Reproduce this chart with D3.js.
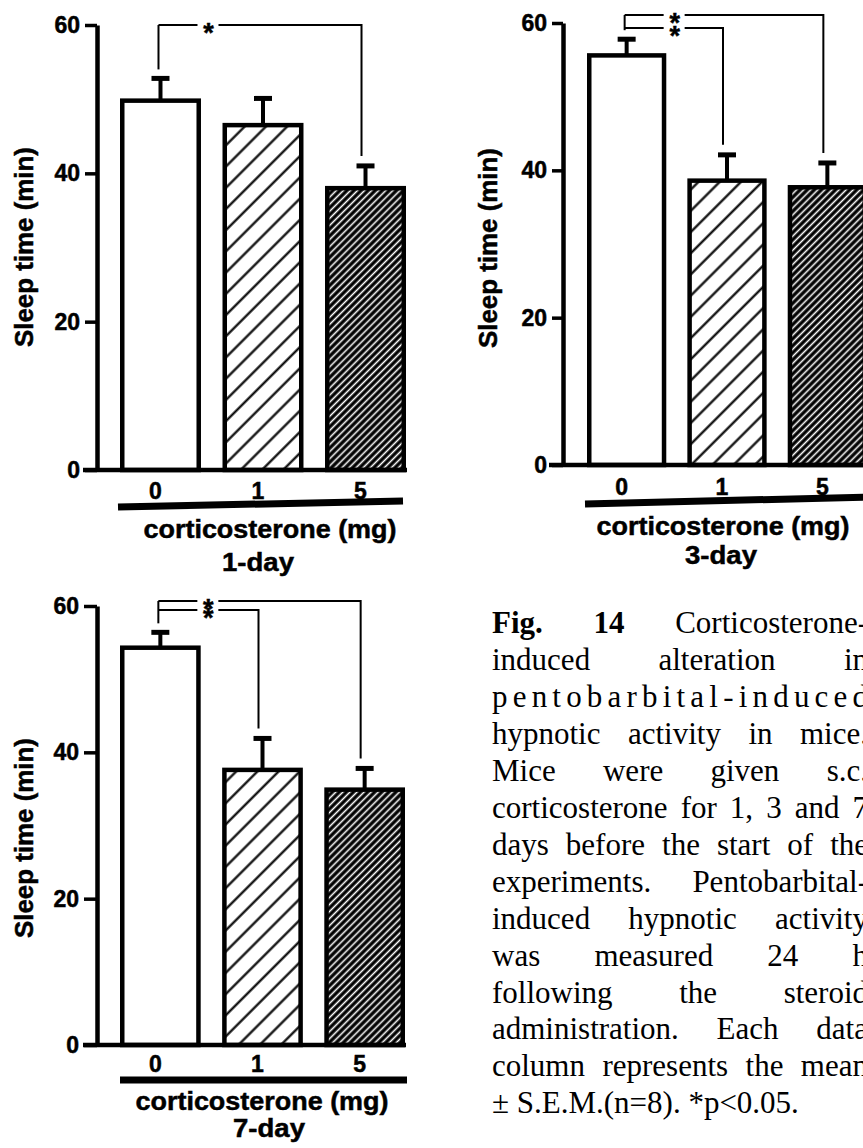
<!DOCTYPE html>
<html>
<head>
<meta charset="utf-8">
<script src="https://cdn.jsdelivr.net/npm/d3@7"></script>
<style>
  html, body { margin: 0; padding: 0; background: #fff; overflow: hidden; }
  svg { display: block; }
</style>
</head>
<body>
<svg id="fig" width="863" height="1148"></svg>
<script>
// ---- data ----
const doses = ["0", "1", "5"];
const yTicks = [0, 20, 40, 60];
const dayLabels = ["1-day", "3-day", "7-day"];
const axisTitle = "Sleep time (min)";
const doseTitle = "corticosterone (mg)";

const mean1Day = [49.8, 46.5, 38.0];
const sem1Day  = [3.0, 3.6, 3.0];
const mean3Day = [55.6, 38.6, 37.7];
const sem3Day  = [2.2, 3.5, 3.3];
const mean7Day = [54.3, 37.6, 34.9];
const sem7Day  = [2.1, 4.3, 2.9];

// significant differences vs. control (group index pairs), outermost first
const sig1Day = [[0, 2]];
const sig3Day = [[0, 2], [0, 1]];
const sig7Day = [[0, 2], [0, 1]];
const sigMark = "*";

const captionLines = [
  "Fig. 14 Corticosterone-",
  "induced alteration in",
  "pentobarbital-induced",
  "hypnotic activity in mice.",
  "Mice were given s.c.",
  "corticosterone for 1, 3 and 7",
  "days before the start of the",
  "experiments. Pentobarbital-",
  "induced hypnotic activity",
  "was measured 24 h",
  "following the steroid",
  "administration. Each data",
  "column represents the mean",
  "\u00B1 S.E.M.(n=8). *p<0.05."
];
const captionBoldWords = 2; // "Fig. 14"

// ---- drawing ----
const SANS = "'Liberation Sans', Arial, Helvetica, sans-serif";
const SERIF = "'Liberation Serif', 'Times New Roman', serif";
const svg = d3.select("#fig");

const defs = svg.append("defs");
const sparse = defs.append("pattern")
  .attr("id", "hatchSparse").attr("patternUnits", "userSpaceOnUse")
  .attr("width", 15).attr("height", 15).attr("patternTransform", "rotate(45)");
sparse.append("rect").attr("width", 15).attr("height", 15).attr("fill", "#fff");
sparse.append("line").attr("x1", 7.5).attr("x2", 7.5).attr("y1", 0).attr("y2", 15)
  .attr("stroke", "#000").attr("stroke-width", 2.2);

const dense = defs.append("pattern")
  .attr("id", "hatchDense").attr("patternUnits", "userSpaceOnUse")
  .attr("width", 5).attr("height", 5).attr("patternTransform", "rotate(45)");
dense.append("rect").attr("width", 5).attr("height", 5).attr("fill", "#000");
dense.append("line").attr("x1", 2.5).attr("x2", 2.5).attr("y1", 0).attr("y2", 5)
  .attr("stroke", "#fff").attr("stroke-width", 1.6);

const barFills = ["#fff", "url(#hatchSparse)", "url(#hatchDense)"];

// heavy bold sans text, as printed
function sansBold(sel, size) {
  return sel.attr("font-family", SANS).attr("font-weight", "bold").attr("font-size", size)
    .attr("fill", "#000").attr("stroke", "#000").attr("stroke-width", 0.5);
}

const panels = [
  { mean: mean1Day, sem: sem1Day, sig: sig1Day, day: dayLabels[0],
    axisX: 97, yZero: 470, yTop: 25, barRange: [120, 406], tickSize: 12,
    catY: 499, rule: [[118, 507], [403, 501]], titleX: 270, titleY: 538,
    dayX: 258, dayY: 571, yTitleX: 33, yTitleY: 247, bracketOffsets: [0] },
  { mean: mean3Day, sem: sem3Day, sig: sig3Day, day: dayLabels[1],
    axisX: 563, yZero: 465, yTop: 23, barRange: [587, 867], tickSize: 11,
    catY: 495, rule: [[585, 504], [870, 497]], titleX: 723, titleY: 535,
    dayX: 721, dayY: 564, yTitleX: 497, yTitleY: 248, bracketOffsets: [-8, 5] },
  { mean: mean7Day, sem: sem7Day, sig: sig7Day, day: dayLabels[2],
    axisX: 97, yZero: 1045, yTop: 606, barRange: [120, 405], tickSize: 13,
    catY: 1072, rule: [[120, 1080], [407, 1080]], titleX: 262, titleY: 1110,
    dayX: 269, dayY: 1137, yTitleX: 33, yTitleY: 838, bracketOffsets: [-5, 4] }
];

panels.forEach(P => {
  const g = svg.append("g");
  const y = d3.scaleLinear().domain([0, 60]).range([P.yZero, P.yTop]);
  const x = d3.scaleBand().domain(doses).range(P.barRange).paddingInner(0.21).paddingOuter(0);
  const bw = x.bandwidth();
  const cx = i => x(doses[i]) + bw / 2;
  const capY = i => y(P.mean[i] + P.sem[i]);
  const SW = 4.5;

  // bars
  g.selectAll("rect.bar").data(P.mean).join("rect")
    .attr("class", "bar")
    .attr("x", (d, i) => x(doses[i]) + SW / 2)
    .attr("width", bw - SW)
    .attr("y", d => y(d))
    .attr("height", d => y(0) - y(d))
    .attr("fill", (d, i) => barFills[i])
    .attr("stroke", "#000").attr("stroke-width", SW);

  // error bars (mean + S.E.M.)
  g.selectAll("line.stem").data(P.mean).join("line")
    .attr("class", "stem")
    .attr("x1", (d, i) => cx(i)).attr("x2", (d, i) => cx(i))
    .attr("y1", d => y(d)).attr("y2", (d, i) => capY(i))
    .attr("stroke", "#000").attr("stroke-width", 4);
  g.selectAll("line.cap").data(P.mean).join("line")
    .attr("class", "cap")
    .attr("x1", (d, i) => cx(i) - 9).attr("x2", (d, i) => cx(i) + 9)
    .attr("y1", (d, i) => capY(i)).attr("y2", (d, i) => capY(i))
    .attr("stroke", "#000").attr("stroke-width", 5);

  // y axis
  const ax = g.append("g")
    .attr("transform", `translate(${P.axisX},0)`)
    .call(d3.axisLeft(y).tickValues(yTicks).tickSize(P.tickSize).tickSizeOuter(0).tickPadding(5));
  ax.select(".domain").attr("stroke-width", 4.5).attr("stroke", "#000");
  ax.selectAll(".tick line").attr("stroke-width", 3.5).attr("stroke", "#000");
  sansBold(ax.selectAll(".tick text"), 23);

  // zero line
  g.append("line")
    .attr("x1", P.axisX - 14).attr("x2", P.barRange[1] + 1)
    .attr("y1", y(0)).attr("y2", y(0))
    .attr("stroke", "#000").attr("stroke-width", 4.5);

  // y title
  sansBold(g.append("text"), 26)
    .attr("transform", `translate(${P.yTitleX},${P.yTitleY}) rotate(-90)`)
    .attr("text-anchor", "middle")
    .attr("textLength", 200).attr("lengthAdjust", "spacingAndGlyphs")
    .text(axisTitle);

  // dose labels
  sansBold(g.selectAll("text.dose").data(doses).join("text"), 23)
    .attr("class", "dose")
    .attr("x", (d, i) => cx(i) - 5).attr("y", P.catY)
    .attr("text-anchor", "middle")
    .text(d => d);

  // heavy rule under the dose labels
  g.append("line")
    .attr("x1", P.rule[0][0]).attr("y1", P.rule[0][1])
    .attr("x2", P.rule[1][0]).attr("y2", P.rule[1][1])
    .attr("stroke", "#000").attr("stroke-width", 7);

  sansBold(g.append("text"), 26)
    .attr("x", P.titleX).attr("y", P.titleY).attr("text-anchor", "middle")
    .attr("textLength", 253).attr("lengthAdjust", "spacingAndGlyphs")
    .text(doseTitle);
  sansBold(g.append("text"), 26)
    .attr("x", P.dayX).attr("y", P.dayY).attr("text-anchor", "middle")
    .attr("textLength", 72).attr("lengthAdjust", "spacingAndGlyphs")
    .text(P.day);

  // significance brackets
  const x0 = cx(0) - 2;
  const levels = P.bracketOffsets.map(o => y(60) + o);
  const starX = x0 + 50;
  g.append("path")
    .attr("d", `M${x0},${levels[0]}V${capY(0) - 9}`)
    .attr("fill", "none").attr("stroke", "#000").attr("stroke-width", 2);
  P.sig.forEach((pair, k) => {
    const ly = levels[k];
    const j = pair[1];
    const xr = cx(j) - 4;
    g.append("path")
      .attr("d", `M${x0},${ly}H${starX - 11}M${starX + 10},${ly}H${xr}V${capY(j) - 10}`)
      .attr("fill", "none").attr("stroke", "#000").attr("stroke-width", 2);
    sansBold(g.append("text"), 27)
      .attr("x", starX).attr("y", ly + 1 + 15.5)
      .attr("text-anchor", "middle")
      .text(sigMark);
  });
});

// ---- caption (justified column running off the right edge) ----
const capL = 492, capR = 868, capTop = 633, capStep = 36.95;
const cap = svg.append("g").attr("font-family", SERIF).attr("font-size", 31).attr("fill", "#000");
captionLines.forEach((line, i) => {
  const yy = capTop + i * capStep;
  const words = line.split(" ");
  const isLast = i === captionLines.length - 1;
  if (words.length === 1) {
    cap.append("text").attr("x", capL).attr("y", yy)
      .attr("textLength", capR - capL).attr("lengthAdjust", "spacing")
      .text(line);
    return;
  }
  const nodes = words.map((w, k) => cap.append("text")
    .attr("y", yy)
    .attr("font-weight", (i === 0 && k < captionBoldWords) ? "bold" : "normal")
    .text(w));
  const widths = nodes.map(n => n.node().getComputedTextLength());
  const total = d3.sum(widths);
  const gap = isLast ? 31 * 0.25 : (capR - capL - total) / (words.length - 1);
  let xx = capL;
  nodes.forEach((n, k) => { n.attr("x", xx); xx += widths[k] + gap; });
});
</script>
</body>
</html>
